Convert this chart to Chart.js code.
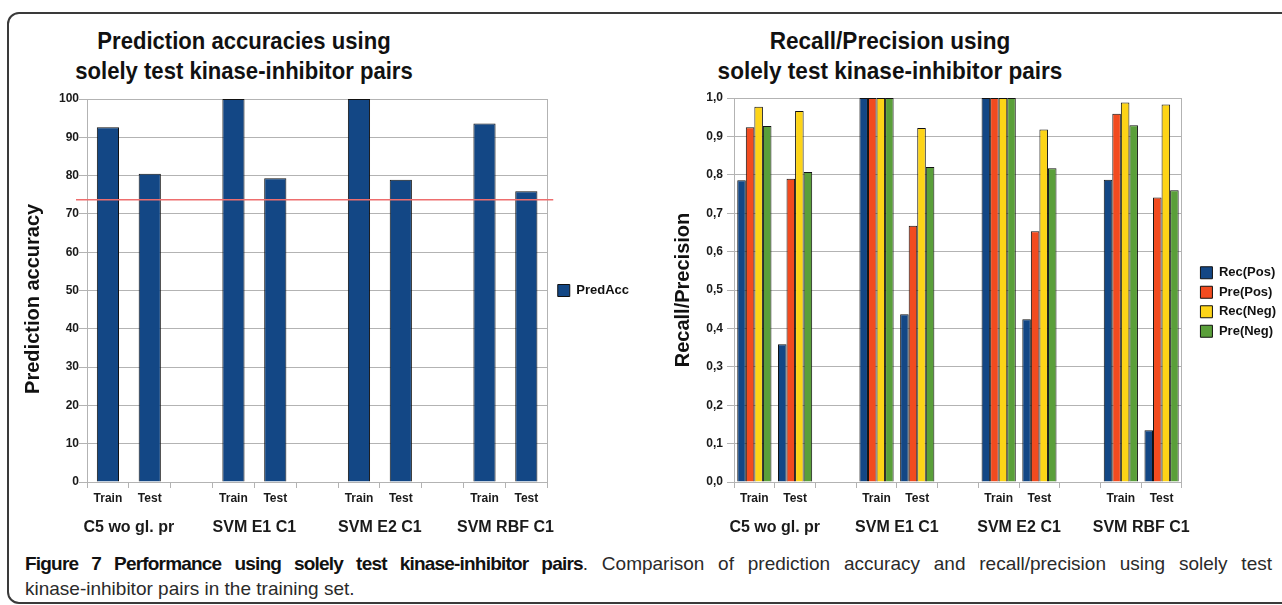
<!DOCTYPE html>
<html>
<head>
<meta charset="utf-8">
<script src="https://cdn.jsdelivr.net/npm/chart.js@4"></script>
<style>
  body { margin:0; width:1282px; height:605px; overflow:hidden; background:#fff; position:relative; font-family:'Liberation Sans', Arial, sans-serif; }
  .frame { position:absolute; left:7px; top:12px; width:1290px; height:592px; border:2px solid #3a3a3a; border-radius:12px; box-sizing:border-box; }
  .title { position:absolute; top:26px; width:500px; text-align:center; font:bold 24px/30px 'Liberation Sans', Arial, sans-serif; color:#111; }
  #accTitle { left:-6px; transform:scaleX(0.92); }
  #rpTitle { left:640px; transform:scaleX(0.94); }
  canvas { position:absolute; top:0; }
  #accChart { left:0; }
  #rpChart { left:640px; }
  .caption { position:absolute; left:25px; top:551px; width:1247px; font:19px/25px 'Liberation Sans', Arial, sans-serif; color:#2a2a2a; }
  .caption b { color:#111; letter-spacing:-0.8px; }
  .line1 { text-align:justify; text-align-last:justify; white-space:nowrap; }
</style>
</head>
<body>
<div class="frame"></div>
<div class="title" id="accTitle">Prediction accuracies using<br>solely test kinase-inhibitor pairs</div>
<div class="title" id="rpTitle">Recall/Precision using<br>solely test kinase-inhibitor pairs</div>
<canvas id="accChart" width="639" height="545"></canvas>
<canvas id="rpChart" width="646" height="545"></canvas>
<div class="caption">
  <div class="line1"><b>Figure 7 Performance using solely test kinase-inhibitor pairs</b>. Comparison of prediction accuracy and recall/precision using solely test</div>
  <div>kinase-inhibitor pairs in the training set.</div>
</div>
<script>
// ========================== DATA ==============================
const slotLabels = ['Train', 'Test', '', 'Train', 'Test', '', 'Train', 'Test', '', 'Train', 'Test'];
const methods = ['C5 wo gl. pr', 'SVM E1 C1', 'SVM E2 C1', 'SVM RBF C1'];
const methodPos = [1, 4, 7, 10];   // centre of each Train/Test pair, in slot units

const predAcc = [92.6, 80.5, null, 100, 79.3, null, 100, 78.9, null, 93.6, 75.9];
const baseline = 73.7;

const recPos = [0.786, 0.359, null, 1.0, 0.437, null, 1.0, 0.424, null, 0.787, 0.135];
const prePos = [0.924, 0.790, null, 1.0, 0.667, null, 1.0, 0.653, null, 0.959, 0.741];
const recNeg = [0.977, 0.966, null, 1.0, 0.922, null, 1.0, 0.918, null, 0.988, 0.983];
const preNeg = [0.927, 0.807, null, 1.0, 0.820, null, 1.0, 0.817, null, 0.929, 0.760];

// ========================== SHARED ============================
Chart.defaults.font.family = "'Liberation Sans', Arial, sans-serif";
Chart.defaults.color = '#1a1a1a';
const gridGray = '#b3b3b3';
const boldFont = size => ({ size, weight: 'bold' });

const refLinePlugin = {
  id: 'refLine',
  afterDatasetsDraw(chart) {
    const y = chart.scales.y.getPixelForValue(baseline);
    const { left, right } = chart.chartArea;
    const ctx = chart.ctx;
    ctx.save();
    ctx.strokeStyle = '#ee6e6e';
    ctx.lineWidth = 1.5;
    ctx.beginPath();
    ctx.moveTo(left - 11, y);
    ctx.lineTo(right + 6, y);
    ctx.stroke();
    ctx.restore();
  }
};

function xAxes() {
  return {
    x: {
      weight: 0,
      grid: { display: true, drawOnChartArea: false, drawTicks: true, tickLength: 6, offset: true, color: gridGray },
      border: { color: gridGray },
      ticks: { font: boldFont(12), padding: 3, autoSkip: false, maxRotation: 0 },
      afterFit: s => { s.height = 24; }
    },
    x2: {
      type: 'linear',
      position: 'bottom',
      weight: 1,
      offset: false,
      min: 0,
      max: 11,
      grid: { display: false, drawTicks: false, offset: false },
      border: { display: false },
      afterBuildTicks: s => { s.ticks = methodPos.map(v => ({ value: v })); },
      ticks: { font: boldFont(16), padding: 12, autoSkip: false, maxRotation: 0,
               callback: v => methods[methodPos.indexOf(v)] },
      afterFit: s => { s.height = 39; }
    }
  };
}

function frameAxis(width) {
  return {
    type: 'linear',
    position: 'right',
    ticks: { display: false },
    grid: { drawOnChartArea: false, drawTicks: false },
    border: { color: gridGray },
    afterFit: s => { s.width = width; }
  };
}

// ========================== PREDICTION ACCURACY ===============
new Chart(document.getElementById('accChart'), {
  type: 'bar',
  data: {
    labels: slotLabels,
    datasets: [{
      label: 'PredAcc',
      data: predAcc,
      backgroundColor: '#134785',
      borderColor: '#111',
      borderWidth: 1,
      categoryPercentage: 1,
      barPercentage: 0.53
    }]
  },
  options: {
    responsive: false,
    animation: false,
    devicePixelRatio: 1,
    layout: { padding: { top: 99, left: 0, right: 0, bottom: 0 } },
    plugins: {
      tooltip: { enabled: false },
      legend: {
        position: 'right',
        fullSize: false,
        labels: { font: boldFont(13), color: '#111', boxWidth: 12, boxHeight: 12, padding: 6.5 }
      }
    },
    scales: {
      ...xAxes(),
      y: {
        min: 0,
        max: 100,
        ticks: { stepSize: 10, font: boldFont(12), padding: 0 },
        grid: { color: gridGray, tickLength: 8 },
        border: { color: gridGray },
        title: { display: true, text: 'Prediction accuracy\u00a0\u00a0\u00a0', font: boldFont(20), color: '#111', padding: { top: 21, bottom: 0 } },
        afterFit: s => { s.width = 87; }
      },
      yr: frameAxis(4)
    }
  },
  plugins: [refLinePlugin]
});

// ========================== RECALL / PRECISION ================
const rpColors = ['#134785', '#f24b1f', '#fdd417', '#5a9f3a'];
const rpSeries = [
  ['Rec(Pos)', recPos],
  ['Pre(Pos)', prePos],
  ['Rec(Neg)', recNeg],
  ['Pre(Neg)', preNeg]
];

new Chart(document.getElementById('rpChart'), {
  type: 'bar',
  data: {
    labels: slotLabels,
    datasets: rpSeries.map(([label, data], i) => ({
      label,
      data,
      backgroundColor: rpColors[i],
      borderColor: '#111',
      borderWidth: 1,
      categoryPercentage: 0.84,
      barPercentage: 1
    }))
  },
  options: {
    responsive: false,
    animation: false,
    devicePixelRatio: 1,
    layout: { padding: { top: 98, left: 0, right: 0, bottom: 0 } },
    plugins: {
      tooltip: { enabled: false },
      legend: {
        position: 'right',
        fullSize: false,
        title: { display: true, text: ' ', padding: 6, font: { size: 10 } },
        labels: { font: boldFont(13), color: '#111', boxWidth: 12, boxHeight: 12, padding: 6.5 }
      }
    },
    scales: {
      ...xAxes(),
      y: {
        min: 0,
        max: 1,
        ticks: { stepSize: 0.1, font: boldFont(12), padding: 4,
                 callback: v => v.toFixed(1).replace('.', ',') },
        grid: { color: gridGray, tickLength: 7 },
        border: { color: gridGray },
        title: { display: true, text: 'Recall/Precision', font: boldFont(20), color: '#111', padding: { top: 31, bottom: 0 } },
        afterFit: s => { s.width = 94; }
      },
      yr: frameAxis(12)
    }
  }
});
</script>
</body>
</html>
